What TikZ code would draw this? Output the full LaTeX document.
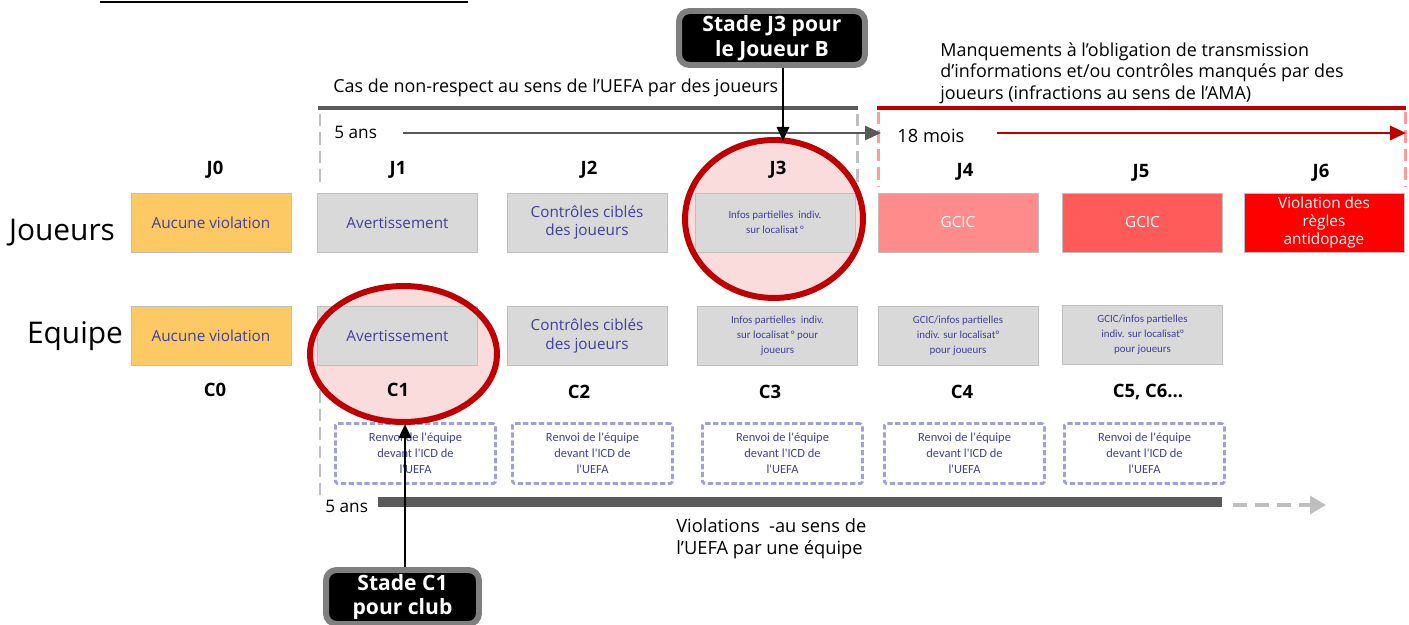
\documentclass[tikz,border=0pt]{standalone}
\usepackage{fontspec}
\setmainfont{Open Sans}
\newfontfamily\narrowfont{Carlito}
\usetikzlibrary{arrows.meta,shapes.geometric}

\definecolor{boxgray}{HTML}{D9D9D9}
\definecolor{boxline}{HTML}{BFBFBF}
\definecolor{okorange}{HTML}{FDC965}
\definecolor{gcicpink}{HTML}{FF8B8B}
\definecolor{gcicred}{HTML}{FF5B5B}
\definecolor{adrvred}{HTML}{FF0000}
\definecolor{inkblue}{HTML}{40409A}
\definecolor{ringred}{HTML}{C00000}
\definecolor{ringfill}{HTML}{FADCDC}
\definecolor{bargray}{HTML}{595959}
\definecolor{dashgray}{HTML}{BFBFBF}
\definecolor{dashpink}{HTML}{FF9B9B}
\definecolor{renvoiline}{HTML}{A0A0DC}
\definecolor{calloutline}{HTML}{7F7F7F}

\begin{document}
\begin{tikzpicture}[x=0.02cm,y=-0.02cm,
    sanction/.style={draw=boxline, fill=boxgray, minimum width=3.2cm, minimum height=1.18cm,
        inner sep=1pt, align=center, text=inkblue, font=\fontsize{8.7}{10.4}\selectfont},
    smalltext/.style={font=\narrowfont\fontsize{6.2}{8.6}\selectfont},
    renvoi/.style={draw=renvoiline, line width=1.6pt, dash pattern=on 3pt off 1.5pt,
        rounded corners=1pt, minimum width=3.2cm, minimum height=1.2cm, inner sep=1pt,
        align=center, text=inkblue, font=\narrowfont\fontsize{7.1}{9}\selectfont},
    stage/.style={font=\bfseries\fontsize{10.5}{12}\selectfont},
    rowlabel/.style={font=\fontsize{17}{20}\selectfont},
    note/.style={font=\fontsize{10.2}{12.3}\selectfont, align=left, inner sep=0pt},
    callout/.style={fill=black, draw=calloutline, line width=3.4pt, rounded corners=6pt,
        text=white, align=center, inner sep=0pt, font=\bfseries\fontsize{12}{14.2}\selectfont},
    ringspot/.style={ellipse, fill=ringfill, inner sep=0pt},
    ringline/.style={draw=ringred, line width=3.4pt},
    callarrow/.style={-{Triangle[length=8pt,width=7pt]}, line width=1.4pt}]
\useasboundingbox (0,0) rectangle (1409,625);

% Cropped heading underline
\draw[line width=1.7pt] (100,2) -- (468,2);

% Timeline coordinates
\coordinate (uefaA) at (318,108);
\coordinate (uefaB) at (858,108);
\coordinate (amaA) at (877,108);
\coordinate (amaB) at (1406,108);
\coordinate (fiveA) at (403,133);
\coordinate (fiveB) at (881,133);
\coordinate (moisA) at (997,133);
\coordinate (moisB) at (1406,133);
\coordinate (teamA) at (378,502);
\coordinate (teamB) at (1222,502);
\coordinate (moreA) at (1233,505);
\coordinate (moreB) at (1326,505);
\coordinate (j3tip) at (783,141);
\coordinate (c1tip) at (405,424);

% Players' periods
\node[note, anchor=west] (uefatext) at (333,88) {Cas de non-respect au sens de l'UEFA par des joueurs};
\node[note, anchor=west] (amatext) at (940,73) {Manquements à l'obligation de transmission\\d'informations et/ou contrôles manqués par des\\joueurs (infractions au sens de l'AMA)};
\draw[bargray, line width=2.3pt] (uefaA) -- (uefaB);
\draw[ringred, line width=2.3pt] (amaA) -- (amaB);
\draw[dashgray, line width=1.7pt, dash pattern=on 7pt off 3.5pt] (320,114) -- (320,186);
\draw[dashgray, line width=1.7pt, dash pattern=on 7pt off 3.5pt] (857,114) -- (857,182);
\draw[dashpink, line width=1.7pt, dash pattern=on 7pt off 3.5pt] (878,112) -- (878,186);
\draw[dashpink, line width=1.7pt, dash pattern=on 7pt off 3.5pt] (1405,112) -- (1405,186);
\draw[dashgray, line width=1.7pt, dash pattern=on 7pt off 3.5pt] (320,372) -- (320,496);
\node[note, anchor=west, font=\fontsize{9.8}{12}\selectfont] (fiveans) at (334,132) {5 ans};
\node[note, anchor=west, font=\fontsize{10.4}{12}\selectfont] (dixhuit) at (897,136) {18 mois};
\draw[bargray, line width=1.3pt, -{Triangle[length=9pt,width=8pt]}] (fiveA) -- (fiveB);
\draw[ringred, line width=1.5pt, -{Triangle[length=9pt,width=8pt]}] (moisA) -- (moisB);

% Team period
\node[note, anchor=west, font=\fontsize{9.8}{12}\selectfont] (teamfive) at (325,506) {5 ans};
\draw[bargray, line width=5.7pt] (teamA) -- (teamB);
\draw[dashgray, line width=2.3pt, dash pattern=on 8pt off 4.5pt, -{Triangle[length=9pt,width=10pt]}] (moreA) -- (moreB);
\node[note, anchor=west, font=\fontsize{10.4}{12.5}\selectfont] (teamtext) at (676,539) {Violations~ -au sens de\\l'UEFA par une équipe};

% Highlight fills
\node[ringspot, minimum width=3.56cm, minimum height=3.16cm] (j3ring) at (774,219) {};
\node[ringspot, minimum width=3.74cm, minimum height=2.72cm] (c1ring) at (403.5,354) {};

% Row labels
\node[rowlabel] (joueurs) at (62,233) {Joueurs};
\node[rowlabel] (equipe) at (75,336) {Equipe};

% Player stages
\node[stage] (hj0) at (215,170) {J0};
\node[stage] (hj1) at (398,170) {J1};
\node[stage] (hj2) at (589,170) {J2};
\node[stage] (hj3) at (778,170) {J3};
\node[stage] (hj4) at (965,172) {J4};
\node[stage] (hj5) at (1141,173) {J5};
\node[stage] (hj6) at (1321,173) {J6};
\node[sanction, fill=okorange] (j0) at (211,222.5) {Aucune violation};
\node[sanction] (j1) at (397.5,222.5) {Avertissement};
\node[sanction] (j2) at (587,222.5) {Contrôles ciblés\\des joueurs};
\node[sanction, smalltext] (j3) at (775,222.5) {Infos partielles~ indiv.\\sur localisat\,°};
\node[sanction, fill=gcicpink, text=white] (j4) at (958,222.5) {GCIC};
\node[sanction, fill=gcicred, text=white] (j5) at (1142.5,222.5) {GCIC};
\node[sanction, fill=adrvred, text=white] (j6) at (1324,222.5) {Violation des\\règles\\antidopage};

% Team stages
\node[sanction, fill=okorange] (c0) at (211,336) {Aucune violation};
\node[sanction] (c1) at (397.5,336) {Avertissement};
\node[sanction] (c2) at (587,336) {Contrôles ciblés\\des joueurs};
\node[sanction, smalltext] (c3) at (777.5,336) {Infos partielles~ indiv.\\sur localisat\,° pour\\joueurs};
\node[sanction, smalltext] (c4) at (958,335.5) {GCIC/infos partielles\\indiv. sur localisat°\\pour joueurs};
\node[sanction, smalltext] (c5) at (1142.5,334.5) {GCIC/infos partielles\\indiv. sur localisat°\\pour joueurs};
\node[stage] (hc0) at (215,390) {C0};
\node[stage] (hc1) at (398,390) {C1};
\node[stage] (hc2) at (579,392) {C2};
\node[stage] (hc3) at (770,392) {C3};
\node[stage] (hc4) at (962,392) {C4};
\node[stage] (hc5) at (1148,392) {C5, C6…};

% Referrals
\node[renvoi] (r1) at (415.5,453.5) {Renvoi de l'équipe\\devant l'ICD de\\l'UEFA};
\node[renvoi] (r2) at (592.5,453.5) {Renvoi de l'équipe\\devant l'ICD de\\l'UEFA};
\node[renvoi] (r3) at (782.5,453.5) {Renvoi de l'équipe\\devant l'ICD de\\l'UEFA};
\node[renvoi] (r4) at (964.5,453.5) {Renvoi de l'équipe\\devant l'ICD de\\l'UEFA};
\node[renvoi] (r5) at (1144.5,453.5) {Renvoi de l'équipe\\devant l'ICD de\\l'UEFA};

% Highlight rings
\draw[ringline] (j3ring.center) ellipse [x radius=1.78cm, y radius=1.58cm];
\draw[ringline] (c1ring.center) ellipse [x radius=1.87cm, y radius=1.36cm];

% Callouts
\node[callout, minimum width=3.72cm, minimum height=1.08cm] (stadej) at (772,38) {Stade J3 pour\\le Joueur B};
\node[callout, minimum width=3.06cm, minimum height=1.08cm] (stadec) at (402.5,597) {Stade C1\\pour club};
\draw[callarrow] (stadej.south -| j3tip) -- (j3tip);
\draw[callarrow] (stadec.north -| c1tip) -- (c1tip);
\end{tikzpicture}
\end{document}
